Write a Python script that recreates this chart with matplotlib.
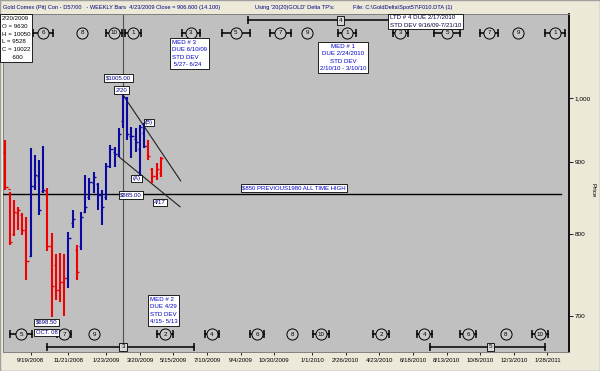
import matplotlib
matplotlib.use('Agg')
import matplotlib.pyplot as plt
import matplotlib.dates as mdates
import matplotlib.transforms as mtrans
from matplotlib.ticker import FixedLocator, NullLocator, FixedFormatter
from matplotlib.patches import Rectangle
import pandas as pd

plt.rcParams['font.family'] = ['Liberation Sans', 'DejaVu Sans']

# ---------------- data ----------------
bar_dates = pd.date_range('2008-08-08', '2009-04-24', freq='7D')
highs = [933, 857, 846, 837, 828, 823, 921, 911, 903, 924, 863, 802, 774, 776, 774,
         803, 832, 786, 830, 881, 877, 886, 870, 860, 899, 926, 923, 952, 1005, 1002,
         953, 952, 957, 960, 933, 892, 899, 908]
lows = [860, 786, 797, 806, 799, 742, 771, 860, 826, 856, 778, 698.5, 718, 716, 700,
        732, 808, 742, 780, 828, 846, 856, 832, 812, 846, 891, 893, 908, 952.8, 933,
        906, 915, 880, 921, 903, 870, 874, 879]
opens = [915, 862, 800, 828, 826, 805, 772, 865, 880, 858, 858, 785, 760, 730, 740,
         745, 815, 780, 785, 830, 850, 870, 868, 853, 850, 895, 915, 912, 963, 1000,
         940, 935, 920, 945, 925, 890, 880, 885]
closes = [864, 790, 830, 832, 805, 765, 865, 882, 832, 860, 785, 735, 730, 740, 745,
          795, 820, 752, 823, 837, 872, 878, 853, 836, 895, 920, 912, 942, 1002.2, 942,
          939, 930, 953, 925, 910, 880, 890, 906.6]
bar_side = (['down'] * 6 + ['up'] * 4 + ['down'] * 5 + ['up'] * 2 + ['down'] +
            ['up'] * 16 + ['down'] * 4)

tick_dates = ['2008-09-19', '2008-11-21', '2009-01-23', '2009-03-20', '2009-05-15',
              '2009-07-10', '2009-09-04', '2009-10-30', '2010-01-01', '2010-02-26',
              '2010-04-23', '2010-06-18', '2010-08-13', '2010-10-08', '2010-12-03',
              '2011-01-28']
tick_labels = ['9/19/2008', '11/21/2008', '1/23/2009', '3/20/2009', '5/15/2009',
               '7/10/2009', '9/4/2009', '10/30/2009', '1/1/2010', '2/26/2010',
               '4/23/2010', '6/18/2010', '8/13/2010', '10/8/2010', '12/3/2010',
               '1/28/2011']
price_ticks = [700, 800, 900, 1000]
price_labels = ['700', '800', '900', '1,000']

top_cycle_dates = ['2008-10-10', '2008-12-14', '2009-02-05', '2009-03-09', '2009-06-13',
                   '2009-08-27', '2009-11-09', '2009-12-24', '2010-02-28', '2010-05-28',
                   '2010-08-14', '2010-10-23', '2010-12-10', '2011-02-10']
top_cycle_labels = ['6', '8', '10', '1', '3', '5', '7', '9', '1', '3', '5', '7', '9', '1']
top_cycle_halfdays = [17, 0, 13, 13, 15, 23, 17, 0, 15, 13, 22, 15, 0, 17]

bot_cycle_dates = ['2008-09-03', '2008-11-14', '2009-01-03', '2009-05-01', '2009-07-18',
                   '2009-10-01', '2009-11-29', '2010-01-16', '2010-04-26', '2010-07-07',
                   '2010-09-18', '2010-11-20', '2011-01-16']
bot_cycle_labels = ['5', '7', '9', '2', '4', '6', '8', '10', '2', '4', '6', '8', '10']
bot_cycle_halfdays = [18, 12, 0, 13, 12, 12, 0, 13, 13, 12, 13, 0, 13]

# range bars: (start, due, end, label)
top_ranges = [('2009-09-16', '2010-02-17', '2010-07-21', '4')]
bot_ranges = [('2008-10-17', '2009-02-20', '2009-06-19', '3'),
              ('2010-07-17', '2010-10-25', '2011-01-24', '5')]

upper_trend_dates = ['2009-02-20', '2009-05-27']
upper_trend_prices = [1005, 873]
lower_trend_dates = ['2009-02-12', '2009-05-26']
lower_trend_prices = [909, 836.7]

ath_level = 855
peak_date = '2009-02-20'

# ---------------- figure ----------------
W, H = 600, 371
fig = plt.figure(figsize=(6, 3.71), dpi=100, facecolor='#ECE9D8')


def P(x, y):
    return (x / W, 1 - y / H)


ax = fig.add_axes([3 / W, 1 - 352 / H, 566 / W, 338 / H])
ax.set_facecolor('#C0C0C0')


def dn(s):
    return mdates.date2num(pd.Timestamp(s))


xs = [mdates.date2num(d) for d in bar_dates]
col = {'up': '#0A0AA0', 'down': '#F00000'}
tk = 3.5
for x, o, h, l, c, s in zip(xs, opens, highs, lows, closes, bar_side):
    ax.vlines(x, l, h, color=col[s], lw=1.5, zorder=4)
    ax.hlines(o, x - tk, x, color=col[s], lw=1.0, zorder=4)
    ax.hlines(c, x, x + tk, color=col[s], lw=1.0, zorder=4)

ax.set_yscale('log')
ax.set_ylim(659.5, 1147.6)
ax.set_xlim(dn('2008-08-04'), dn('2011-03-05'))

ax.axvline(dn(peak_date), color='#505050', lw=0.8, zorder=2)
ax.axhline(ath_level, xmin=0, xmax=0.986, color='black', lw=1.0, zorder=3)

ax.plot([dn(d) for d in upper_trend_dates], upper_trend_prices, color='#202020', lw=0.8, zorder=3)
ax.plot([dn(d) for d in lower_trend_dates], lower_trend_prices, color='#202020', lw=0.8, zorder=3)

# axes cosmetics
ax.yaxis.tick_right()
ax.yaxis.set_major_locator(FixedLocator(price_ticks))
ax.yaxis.set_major_formatter(FixedFormatter(price_labels))
ax.yaxis.set_minor_locator(NullLocator())
ax.tick_params(axis='y', which='major', length=3, width=0.6, pad=1, labelsize=4.6)
ax.xaxis.set_major_locator(FixedLocator([dn(d) for d in tick_dates]))
ax.xaxis.set_major_formatter(FixedFormatter(tick_labels))
ax.xaxis.set_minor_locator(NullLocator())
ax.tick_params(axis='x', which='major', length=2, width=0.6, pad=2, labelsize=4.4)
for sp in ['left', 'top', 'bottom']:
    ax.spines[sp].set_color('#808080')
    ax.spines[sp].set_linewidth(0.7)
ax.spines['right'].set_color('black')
ax.spines['right'].set_linewidth(1.3)

fig.text(*P(593, 190), 'Price', rotation=270, ha='center', va='center', fontsize=4.6)

# cycle markers
tr = mtrans.blended_transform_factory(ax.transData, ax.transAxes)


def cycles(dates, labels, halfs, yy):
    for d, lab, hw in zip(dates, labels, halfs):
        xd = dn(d)
        if hw > 0:
            ax.plot([xd - hw, xd + hw], [yy, yy], color='black', lw=1.1, transform=tr,
                    zorder=5, clip_on=False)
            ax.plot([xd - hw, xd + hw], [yy, yy], ls='none', marker='|', ms=5.5, mew=1.1,
                    color='black', transform=tr, zorder=5, clip_on=False)
        ax.plot([xd], [yy], marker='o', ms=8.0, mfc='#C8C8C8', mec='black', mew=0.7,
                transform=tr, zorder=6, clip_on=False)
        ax.text(xd, yy, lab, ha='center', va='center', fontsize=4.5, transform=tr, zorder=7)


cycles(top_cycle_dates, top_cycle_labels, top_cycle_halfdays, 0.944)
cycles(bot_cycle_dates, bot_cycle_labels, bot_cycle_halfdays, 0.053)

small_box = dict(boxstyle='square,pad=0.3', fc='#D8D8D8', ec='black', lw=0.6)


def ranges(rlist, yy):
    for s, m, e, lab in rlist:
        ax.plot([dn(s), dn(e)], [yy, yy], color='black', lw=1.1, transform=tr, zorder=5)
        ax.plot([dn(s), dn(e)], [yy, yy], ls='none', marker='|', ms=5.5, mew=1.1,
                color='black', transform=tr, zorder=5)
        ax.text(dn(m), yy, lab, ha='center', va='center', fontsize=4.5, transform=tr,
                bbox=small_box, zorder=7)


ranges(top_ranges, 0.981)
ranges(bot_ranges, 0.0148)

# ---------------- text annotations ----------------
navy = '#000080'
blue = '#0000C8'
wbox = dict(boxstyle='square,pad=0.25', fc='white', ec='black', lw=0.6)

fig.text(*P(3, 7), 'Gold Comex (Pit) Con - D57/00   - WEEKLY Bars  4/23/2009 Close = 906.600 (14.100)',
         ha='left', va='center', fontsize=4.1, color=navy)
fig.text(*P(255, 7), "Using '20(20)GOLD' Delta TP's:", ha='left', va='center', fontsize=4.1, color=navy)
fig.text(*P(353, 7), r'File: C:\GoldDelta\Spot57\F010.DTA (1)', ha='left', va='center',
         fontsize=4.1, color=navy)

fig.text(*P(2, 16), '2/20/2009\nO = 9630\nH = 10050\nL = 9528\nC = 10022\n      600',
         ha='left', va='top', fontsize=4.4, linespacing=1.7, color='black',
         bbox=dict(boxstyle='square,pad=0.3', fc='white', ec='black', lw=0.6), zorder=10)

fig.text(*P(118.5, 78), '$1005.00', ha='center', va='center', fontsize=4.3, color=navy, bbox=wbox)
fig.text(*P(121.5, 90), '2/20', ha='center', va='center', fontsize=4.3, color=navy, bbox=wbox)
fig.text(*P(149, 122.5), '(B)', ha='center', va='center', fontsize=4.3, color=navy, bbox=wbox)
fig.text(*P(136.5, 178.5), '(A)', ha='center', va='center', fontsize=4.3, color=navy, bbox=wbox)
fig.text(*P(131, 195), '$885.00', ha='center', va='center', fontsize=4.3, color=navy, bbox=wbox)
fig.text(*P(160, 202.5), '4/17', ha='center', va='center', fontsize=4.3, color=navy, bbox=wbox)
fig.text(*P(294, 188), '$850 PREVIOUS1980 ALL TIME HIGH', ha='center', va='center',
         fontsize=4.3, color=blue, bbox=wbox)
fig.text(*P(46.5, 322.5), '$698.50', ha='center', va='center', fontsize=4.3, color=navy, bbox=wbox)
fig.text(*P(46.5, 332.5), 'OCT. 08', ha='center', va='center', fontsize=4.3, color=navy, bbox=wbox)

fig.text(*P(172, 40), 'MED # 3\nDUE 6/10/09\nSTD DEV\n 5/27- 6/24', ha='left', va='top',
         fontsize=4.4, linespacing=1.6, color=blue, bbox=wbox)
fig.text(*P(343, 57.5), 'MED # 1\nDUE 2/24/2010\nSTD DEV\n2/10/10 - 3/10/10', ha='center',
         va='center', multialignment='center', fontsize=4.4, linespacing=1.6, color=blue, bbox=wbox)
fig.text(*P(425.5, 21.5), 'LTD # 4 DUE 2/17/2010\nSTD DEV 9/16/09-7/21/10', ha='center',
         va='center', multialignment='left', fontsize=4.4, linespacing=1.6, color='#000040', bbox=wbox)
fig.text(*P(150, 297), 'MED # 2\nDUE 4/29\nSTD DEV\n4/15- 5/13', ha='left', va='top',
         fontsize=4.4, linespacing=1.6, color=blue, bbox=wbox)

fig.patches.append(Rectangle((0, 0), 1, 1, transform=fig.transFigure, fill=False,
                             ec='#A0A0A0', lw=1.0))

fig.savefig('out.png', dpi=100, facecolor=fig.get_facecolor())
